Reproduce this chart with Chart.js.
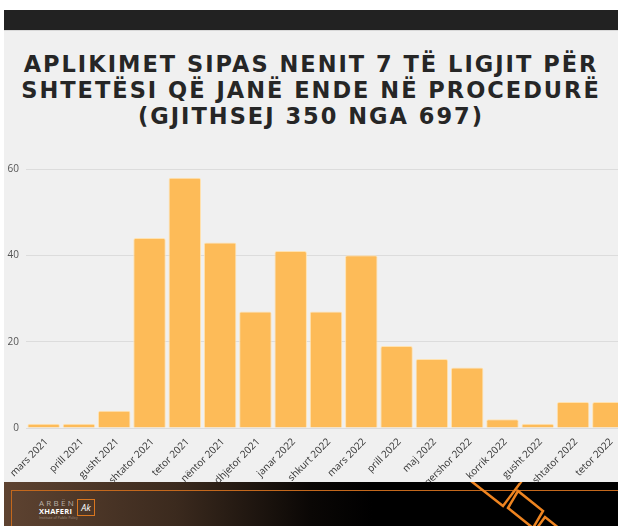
<!DOCTYPE html>
<html>
<head>
<meta charset="utf-8">
<script src="https://cdn.jsdelivr.net/npm/chart.js@4.4.0/dist/chart.umd.min.js"></script>
<style>
  body { margin: 0; width: 618px; height: 526px; overflow: hidden; background: #fff; position: relative; }
  #page { position: absolute; left: 4px; top: 30px; width: 614px; height: 496px; background: #f0f0f0; border-top: 1px solid #d8d8d8; }
  #topbar { position: absolute; left: 4px; top: 10px; width: 614px; height: 20px; background: #222; }
  #title {
    position: absolute; left: 4px; top: 51px; width: 614px; text-align: center;
    font-family: "DejaVu Sans", sans-serif; font-weight: bold; font-size: 22.5px;
    line-height: 26px; letter-spacing: 2px; color: #262626; white-space: nowrap;
  }
  #wrap { position: absolute; left: 0; top: 156px; width: 626px; height: 327px; }
  #footer {
    position: absolute; left: 4px; top: 482px; width: 614px; height: 44px; overflow: hidden;
    background: linear-gradient(90deg, #5e4331 0%, #3b2a1e 28%, #0a0705 50%, #000 60%, #000 100%);
  }
  #frame { position: absolute; left: 7px; top: 8px; width: 640px; height: 80px; border: 1.5px solid #c4681c; }
  #logo { position: absolute; left: 35px; top: 16px; font-family: "Open Sans", sans-serif; }
  #logo .a { font-size: 8px; letter-spacing: 2.3px; color: #b8b0a8; line-height: 9px; }
  #logo .b { font-size: 7.5px; font-weight: bold; color: #fff; line-height: 9px; letter-spacing: 0.2px; }
  #logo .c { font-size: 3.5px; color: #a09080; line-height: 4px; }
  #logo .box { position: absolute; left: 38px; top: 1px; width: 16px; height: 15px; border: 1.5px solid #d9761f; color: #fff; font-size: 9px; text-align: center; line-height: 15px; font-style: italic; }
  #shapes { position: absolute; left: 0; top: 482px; }
</style>
</head>
<body>
<div id="topbar"></div>
<div id="page"></div>
<div id="title">APLIKIMET SIPAS NENIT 7 TË LIGJIT PËR<br>SHTETËSI QË JANË ENDE NË PROCEDURË<br>(GJITHSEJ 350 NGA 697)</div>
<div id="wrap"><canvas id="myChart"></canvas></div>
<div id="footer">
  <div id="frame"></div>
  <div id="logo">
    <div class="a">ARBËN</div>
    <div class="b">XHAFERI</div>
    <div class="c">Institute of Public Policy</div>
    <div class="box">Ak</div>
  </div>
</div>
<svg id="shapes" width="618" height="44" viewBox="0 482 618 44">
  <g fill="none" stroke="#ee8420" stroke-width="2.5">
    <polygon points="503,506 471,481 489,457 521,482"></polygon>
    <polygon points="508,508 518,491 543,511 533,528"></polygon>
    <polygon points="545,517 537,528 557,544 565,533"></polygon>
  </g>
</svg>
<script>
// muajt dhe numri i aplikimeve
var months = ['mars 2021', 'prill 2021', 'gusht 2021', 'shtator 2021', 'tetor 2021', 'nëntor 2021',
  'dhjetor 2021', 'janar 2022', 'shkurt 2022', 'mars 2022', 'prill 2022', 'maj 2022',
  'qershor 2022', 'korrik 2022', 'gusht 2022', 'shtator 2022', 'tetor 2022'];
var applications = [1, 1, 4, 44, 58, 43, 27, 41, 27, 40, 19, 16, 14, 2, 1, 6, 6];
var yTicks = [0, 20, 40, 60];

document.addEventListener('DOMContentLoaded', function() {
  var ctx = document.getElementById('myChart').getContext('2d');

  new Chart(ctx, {
    type: 'bar',
    data: {
      labels: months,
      datasets: [
        {
          label: 'Aplikime',
          data: applications,
          backgroundColor: '#fdbb58',
          borderColor: '#ffe2b0',
          borderWidth: 1,
          borderRadius: { topLeft: 2, topRight: 2 },
          borderSkipped: 'bottom',
          categoryPercentage: 1,
          barPercentage: 0.92
        }
      ]
    },
    options: {
      responsive: true,
      maintainAspectRatio: false,
      animation: false,
      layout: { padding: { top: 8, right: 0, left: 0, bottom: 0 } },
      scales: {
        x: {
          grid: { display: false, drawTicks: false },
          border: { display: false },
          ticks: {
            autoSkip: false,
            minRotation: 45,
            maxRotation: 45,
            padding: 8,
            labelOffset: 3,
            color: '#333',
            font: { family: 'Open Sans', size: 10 }
          },
          afterFit: function(scale) { scale.height = 55; }
        },
        y: {
          min: 0,
          max: 60,
          afterBuildTicks: function(scale) {
            scale.ticks = yTicks.map(function(v) { return { value: v }; });
          },
          grid: { color: '#dcdcdc', drawTicks: false },
          border: { display: false },
          ticks: {
            padding: 7,
            color: '#555',
            font: { family: 'Open Sans', size: 10 }
          },
          afterFit: function(scale) { scale.width = 26; }
        }
      },
      plugins: {
        legend: { display: false },
        tooltip: { enabled: false },
        title: { display: false }
      }
    }
  });
});
</script>
</body>
</html>
